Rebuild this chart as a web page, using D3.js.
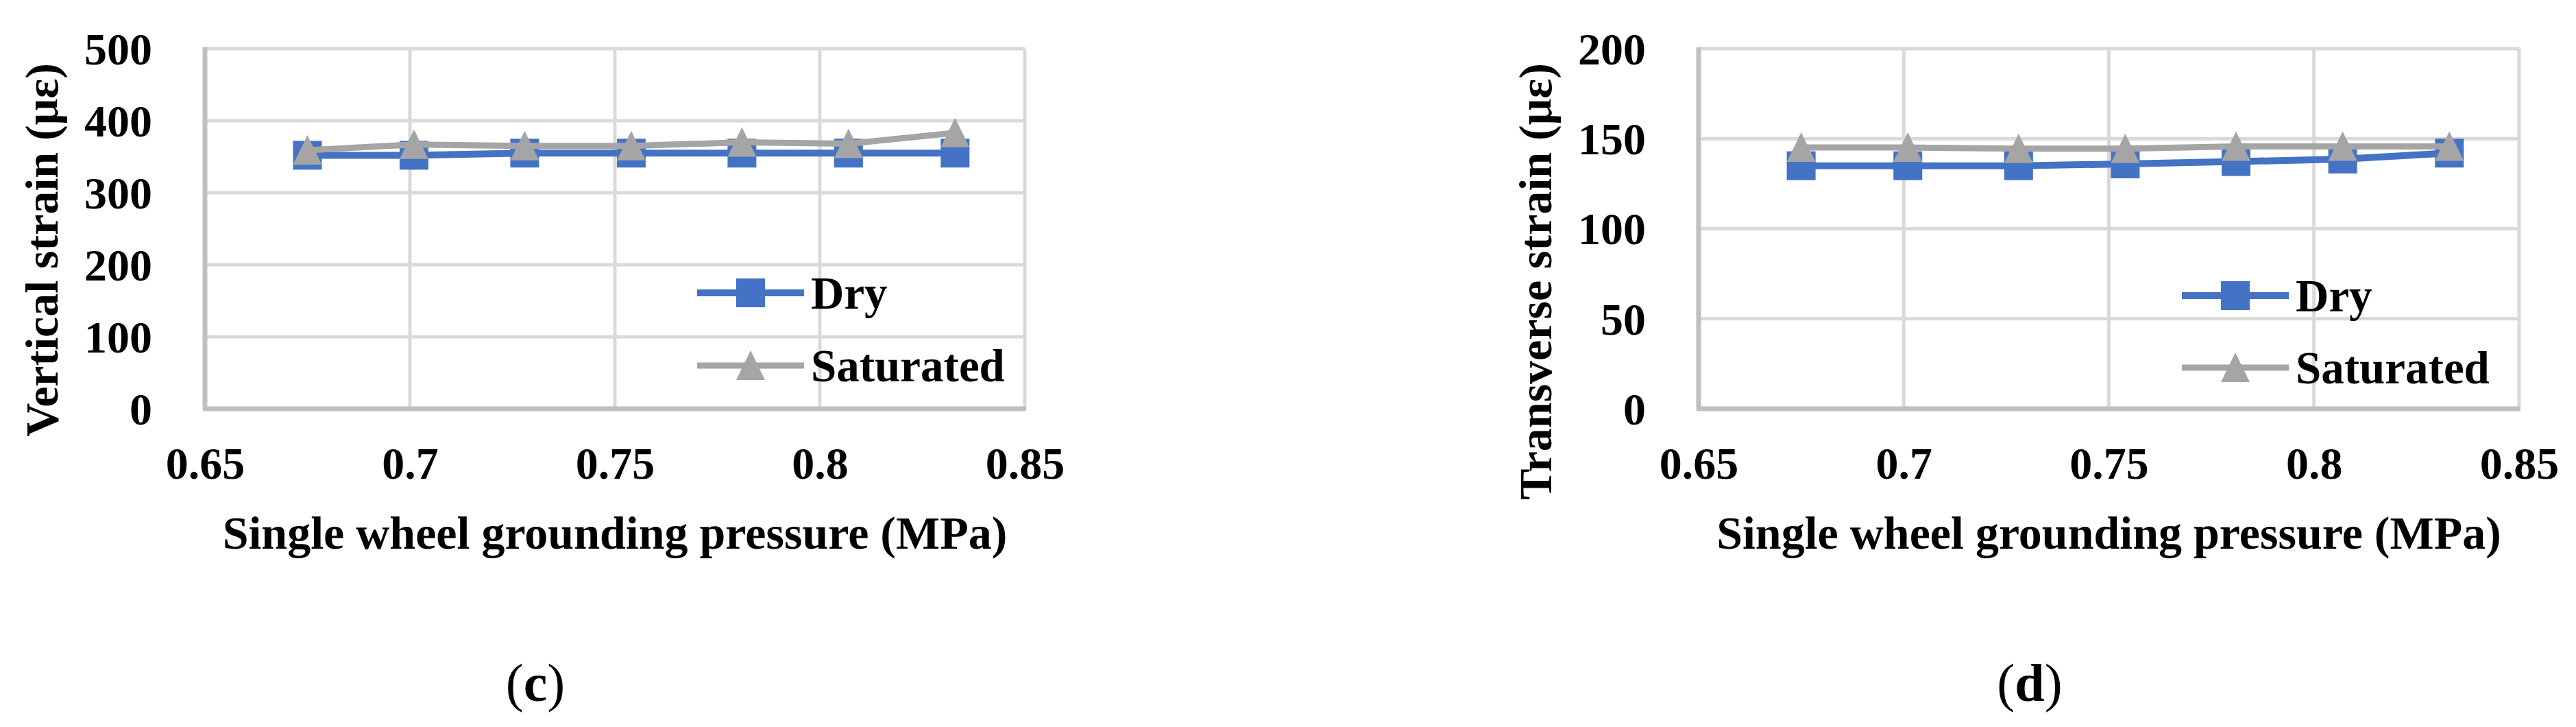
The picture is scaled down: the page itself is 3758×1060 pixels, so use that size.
<!DOCTYPE html>
<html><head><meta charset="utf-8">
<script src="https://cdn.jsdelivr.net/npm/d3@7"></script>
<style>
body{margin:0;background:#fff}
text{font-family:"Liberation Serif","Times New Roman",serif;font-weight:bold;fill:#000}
</style>
</head><body>
<svg id="fig" width="3758" height="1060"></svg>
<script>
// ---- data ----
const pressure = [0.675, 0.701, 0.728, 0.754, 0.781, 0.807, 0.833];
const seriesNames = ["Dry", "Saturated"];
const verticalDry = [352, 352, 355, 355, 355, 355, 355];
const verticalSat = [359, 367, 365, 365, 370, 368, 383];
const transverseDry = [135, 135, 135, 136, 137.3, 138.7, 142];
const transverseSat = [145.1, 145.1, 144.5, 144.5, 145.7, 145.7, 145.7];
const xTicks = [0.65, 0.7, 0.75, 0.8, 0.85];
const xTickLabels = ["0.65", "0.7", "0.75", "0.8", "0.85"];
const verticalTicks = [0, 100, 200, 300, 400, 500];
const transverseTicks = [0, 50, 100, 150, 200];
const xTitle = "Single wheel grounding pressure (MPa)";
const yTitles = ["Vertical strain (με)", "Transverse strain (με)"];
const captions = ["c", "d"];

// ---- layout ----
const svg = d3.select("#fig");
const TOP = 71, BOTTOM = 596;
const colors = ["#4472C4", "#A5A5A5"];
const panels = [
  {left: 299, right: 1495, ticks: verticalTicks, series: [verticalDry, verticalSat], yTitle: yTitles[0], caption: captions[0], legendX: 1017, legendY: [427, 533], captionX: 781},
  {left: 2478, right: 3675, ticks: transverseTicks, series: [transverseDry, transverseSat], yTitle: yTitles[1], caption: captions[1], legendX: 3183, legendY: [431, 536], captionX: 2961}
];

const triPath = "M0,-22L21,21L-21,21Z";

panels.forEach(p => {
  const g = svg.append("g");
  const x = d3.scaleLinear().domain([xTicks[0], xTicks[xTicks.length - 1]]).range([p.left, p.right]);
  const y = d3.scaleLinear().domain([p.ticks[0], p.ticks[p.ticks.length - 1]]).range([BOTTOM, TOP]);

  // gridlines
  g.append("g").selectAll("line").data(p.ticks.slice(1)).join("line")
    .attr("x1", p.left).attr("x2", p.right)
    .attr("y1", d => y(d)).attr("y2", d => y(d))
    .attr("stroke", "#D9D9D9").attr("stroke-width", 5);
  g.append("g").selectAll("line").data(xTicks.slice(1)).join("line")
    .attr("x1", d => x(d)).attr("x2", d => x(d))
    .attr("y1", TOP).attr("y2", BOTTOM)
    .attr("stroke", "#D9D9D9").attr("stroke-width", 5);
  // axis lines
  g.append("line").attr("x1", p.left).attr("x2", p.left).attr("y1", TOP - 2).attr("y2", BOTTOM)
    .attr("stroke", "#BFBFBF").attr("stroke-width", 7);
  g.append("line").attr("x1", p.left - 3).attr("x2", p.right + 2).attr("y1", BOTTOM).attr("y2", BOTTOM)
    .attr("stroke", "#BFBFBF").attr("stroke-width", 7);

  // y tick labels via axis
  const ya = g.append("g").attr("transform", `translate(${p.left},0)`)
    .call(d3.axisLeft(y).tickValues(p.ticks).tickSize(0).tickPadding(77).tickFormat(d3.format("d")));
  ya.select(".domain").remove();
  ya.selectAll("text").attr("font-size", 66).attr("dy", "0.34em")
    .style("font-family", '"Liberation Serif","Times New Roman",serif').style("font-weight", "bold").attr("fill", "#000");

  // x tick labels via axis
  const xa = g.append("g").attr("transform", `translate(0,${BOTTOM})`)
    .call(d3.axisBottom(x).tickValues(xTicks).tickSize(0).tickFormat((d, i) => xTickLabels[i]));
  xa.select(".domain").remove();
  xa.selectAll("text").attr("font-size", 66).attr("y", 102).attr("dy", 0)
    .style("font-family", '"Liberation Serif","Times New Roman",serif').style("font-weight", "bold").attr("fill", "#000");

  // axis titles
  g.append("text").attr("x", (p.left + p.right) / 2).attr("y", 800)
    .attr("text-anchor", "middle").attr("font-size", 68).text(xTitle);
  g.append("text").attr("transform", `translate(${p.left - 215},92) rotate(-90)`)
    .attr("text-anchor", "end").attr("font-size", 68).text(p.yTitle);

  // series
  const line = d3.line().x((d, i) => x(pressure[i])).y(d => y(d));
  p.series.forEach((vals, si) => {
    const sg = g.append("g");
    sg.append("path").attr("d", line(vals)).attr("fill", "none")
      .attr("stroke", colors[si]).attr("stroke-width", si === 0 ? 10 : 9).attr("stroke-linejoin", "round");
    if (si === 0) {
      sg.selectAll("rect").data(vals).join("rect")
        .attr("x", (d, i) => x(pressure[i]) - 21).attr("y", d => y(d) - 21)
        .attr("width", 42).attr("height", 42).attr("fill", colors[si]);
    } else {
      sg.selectAll("path.m").data(vals).join("path").attr("class", "m")
        .attr("d", triPath).attr("transform", (d, i) => `translate(${x(pressure[i])},${y(d)})`)
        .attr("fill", colors[si]);
    }
  });

  // legend
  seriesNames.forEach((name, si) => {
    const ly = p.legendY[si];
    const lg = g.append("g");
    lg.append("line").attr("x1", p.legendX).attr("x2", p.legendX + 156).attr("y1", ly).attr("y2", ly)
      .attr("stroke", colors[si]).attr("stroke-width", si === 0 ? 10 : 9);
    if (si === 0) {
      lg.append("rect").attr("x", p.legendX + 78 - 21).attr("y", ly - 21).attr("width", 42).attr("height", 42).attr("fill", colors[si]);
    } else {
      lg.append("path").attr("d", triPath).attr("transform", `translate(${p.legendX + 78},${ly})`).attr("fill", colors[si]);
    }
    lg.append("text").attr("x", p.legendX + 166).attr("y", ly).attr("dy", "0.34em")
      .attr("font-size", 67).text(name);
  });

  // caption
  const cap = g.append("text").attr("x", p.captionX).attr("y", 1022).attr("text-anchor", "middle").attr("font-size", 78);
  cap.append("tspan").style("font-weight", "normal").text("(");
  cap.append("tspan").text(p.caption);
  cap.append("tspan").style("font-weight", "normal").text(")");
});
</script>
</body></html>
